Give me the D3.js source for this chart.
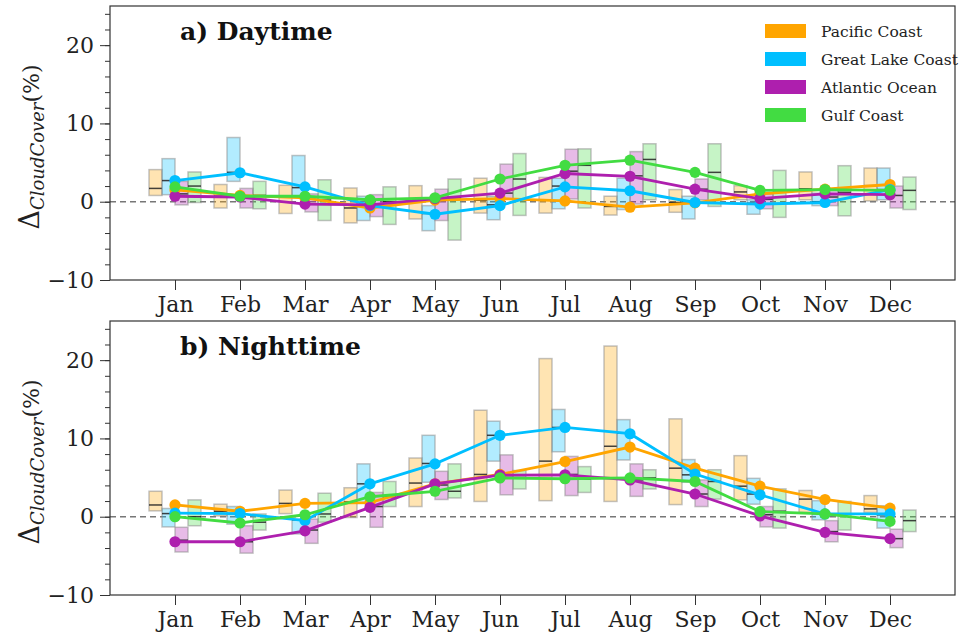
<!DOCTYPE html>
<html>
<head>
<meta charset="utf-8">
<script src="https://cdn.jsdelivr.net/npm/d3@7"></script>
<style>
  body { margin: 0; background: #fff; }
  svg { display: block; font-family: "DejaVu Serif", serif; }
</style>
</head>
<body>
<div id="chart"></div>
<script>
const months  = ["Jan","Feb","Mar","Apr","May","Jun","Jul","Aug","Sep","Oct","Nov","Dec"];
const regions = ["Pacific Coast","Great Lake Coast","Atlantic Ocean","Gulf Coast"];
const colors  = ["#FFA500","#00BFFF","#AE1FAE","#42DC42"];
const yTicks  = [-10, 0, 10, 20];

// daytime: one row per region (Pacific, Great Lake, Atlantic, Gulf)
const dayQ3 = [
  [4.1, 2.2, 2.1, 1.75, 2.05, 3.0, 3.1, 0.7, 1.55, 2.05, 3.8, 4.3],
  [5.5, 8.2, 5.9, 0.7, -0.5, 0.7, 3.0, 3.0, 0.7, 0.25, 1.1, 4.3],
  [2.6, 1.7, 1.0, 0.9, 1.6, 4.8, 6.7, 6.4, 2.9, 1.0, 1.55, 2.0],
  [3.8, 2.6, 2.8, 1.9, 2.9, 6.15, 6.75, 7.4, 7.4, 4.0, 4.6, 3.15]
];
const dayQ1 = [
  [0.8, -0.8, -1.5, -2.7, -2.2, -1.45, -1.45, -1.7, -1.35, 0.25, 0.25, 0.1],
  [0.9, 2.6, 0.7, -2.4, -3.7, -2.3, -0.9, -1.0, -2.2, -1.6, -0.5, 0.25],
  [-0.4, -0.8, -1.3, -1.9, -2.4, 0.35, 0.35, -0.3, 0.25, -0.9, -0.5, -0.8],
  [-0.1, -0.9, -2.4, -2.9, -4.9, -1.75, -0.8, 0.25, -0.6, -2.0, -1.8, -1.0]
];
const dayMedian = [
  [1.7, 0.7, 0.6, -0.8, 0.3, 0.2, 0.2, -0.6, -0.1, 1.25, 1.65, 2.05],
  [2.7, 3.75, 1.8, -0.6, -1.5, -0.4, 2.0, 1.45, 0.0, -0.2, 0.0, 1.55],
  [1.0, 0.5, -0.3, -0.5, 0.3, 1.1, 3.9, 3.3, 1.6, 0.3, 0.6, 0.8],
  [2.0, 0.8, 0.2, 0.0, 0.5, 2.9, 4.65, 5.4, 3.75, 1.2, 1.2, 1.45]
];
const dayMean = [
  [1.5, 0.8, 0.5, -0.8, 0.2, 0.4, 0.1, -0.7, -0.15, 1.0, 1.6, 2.2],
  [2.7, 3.7, 1.9, -0.5, -1.6, -0.5, 1.9, 1.4, -0.1, -0.3, -0.1, 1.55],
  [0.7, 0.6, -0.3, -0.4, 0.4, 1.1, 3.6, 3.25, 1.6, 0.4, 1.0, 0.9],
  [1.9, 0.7, 0.7, 0.25, 0.5, 2.9, 4.65, 5.3, 3.75, 1.45, 1.55, 1.45]
];

// nighttime
const nightQ3 = [
  [3.25, 1.6, 3.4, 3.7, 7.5, 13.6, 20.2, 21.8, 12.5, 7.8, 3.35, 2.7],
  [1.05, 1.3, -0.3, 6.75, 10.4, 12.2, 13.7, 12.4, 7.3, 4.9, 2.05, 1.4],
  [-1.35, -1.15, -0.3, 3.1, 5.8, 7.9, 7.7, 6.75, 4.7, 1.3, -0.5, -1.6],
  [2.15, 0.35, 3.0, 4.5, 6.75, 5.9, 6.4, 6.0, 6.0, 3.55, 1.95, 0.85]
];
const nightQ1 = [
  [0.75, 0.1, 0.4, -0.1, 1.3, 1.95, 2.05, 1.95, 1.55, 2.15, 0.55, 0.55],
  [-1.3, -0.95, -2.2, 1.7, 4.4, 7.1, 8.3, 7.25, 4.4, 1.6, -0.4, -1.45],
  [-4.5, -4.65, -3.4, -1.35, 2.2, 2.8, 2.7, 2.6, 1.3, -1.3, -3.2, -3.95],
  [-1.15, -1.7, -0.7, 1.3, 2.4, 3.55, 3.1, 3.55, 2.25, -1.45, -1.7, -1.9]
];
const nightMedian = [
  [1.5, 0.7, 1.7, 1.9, 4.3, 5.4, 7.1, 9.0, 6.2, 3.9, 2.25, 1.0],
  [0.4, 0.4, -0.4, 4.2, 6.8, 10.4, 11.4, 10.7, 5.35, 2.9, 0.4, 0.25],
  [-3.0, -3.2, -1.7, 1.3, 4.05, 5.25, 5.4, 4.7, 2.9, 0.25, -1.9, -2.8],
  [0.0, -0.7, 0.35, 2.55, 3.25, 5.0, 4.8, 4.95, 4.5, 0.7, 0.35, -0.5]
];
const nightMean = [
  [1.5, 0.7, 1.7, 1.8, 4.2, 5.4, 7.05, 8.9, 6.2, 3.9, 2.2, 1.1],
  [0.45, 0.4, -0.5, 4.2, 6.75, 10.4, 11.4, 10.6, 5.45, 2.8, 0.35, 0.35],
  [-3.2, -3.2, -1.8, 1.2, 4.2, 5.3, 5.35, 4.7, 2.9, 0.1, -2.0, -2.8],
  [0.0, -0.8, 0.25, 2.55, 3.25, 4.95, 4.85, 4.95, 4.5, 0.65, 0.35, -0.6]
];

const width = 963, height = 638;
const left = 110, right = 955;
const boxOffset = [-0.3, -0.1, 0.1, 0.3];
const boxW = 0.2;

const svg = d3.select("#chart").append("svg")
  .attr("width", width)
  .attr("height", height);

const xScale = d3.scaleLinear().domain([-1, 12]).range([left, right]);

const drawPanel = (top, bottom, title, q1, q3, med, mean, withLegend) => {
  const yScale = d3.scaleLinear().domain([-10, 25]).range([bottom, top]);
  const g = svg.append("g");

  // zero line
  g.append("line")
    .attr("x1", left).attr("x2", right)
    .attr("y1", yScale(0)).attr("y2", yScale(0))
    .attr("stroke", "#777").attr("stroke-width", 1.4)
    .attr("stroke-dasharray", "6,4");

  // boxes
  regions.forEach((r, i) => {
    const rows = months.map((m, j) => ({ j, lo: q1[i][j], hi: q3[i][j], md: med[i][j] }));
    g.selectAll(null).data(rows).join("rect")
      .attr("x", d => xScale(d.j + boxOffset[i] - boxW / 2))
      .attr("width", d => xScale(d.j + boxOffset[i] + boxW / 2) - xScale(d.j + boxOffset[i] - boxW / 2))
      .attr("y", d => yScale(d.hi))
      .attr("height", d => yScale(d.lo) - yScale(d.hi))
      .attr("fill", colors[i]).attr("fill-opacity", 0.3)
      .attr("stroke", "#888").attr("stroke-opacity", 0.5).attr("stroke-width", 1.5);
    g.selectAll(null).data(rows).join("line")
      .attr("x1", d => xScale(d.j + boxOffset[i] - boxW / 2))
      .attr("x2", d => xScale(d.j + boxOffset[i] + boxW / 2))
      .attr("y1", d => yScale(d.md)).attr("y2", d => yScale(d.md))
      .attr("stroke", "#222").attr("stroke-opacity", 0.85).attr("stroke-width", 1.5);
  });

  // mean lines with dots
  const line = d3.line().x((d, j) => xScale(j)).y(d => yScale(d));
  regions.forEach((r, i) => {
    g.append("path").datum(mean[i])
      .attr("d", line)
      .attr("fill", "none")
      .attr("stroke", colors[i]).attr("stroke-width", 2.8);
    g.selectAll(null).data(mean[i]).join("circle")
      .attr("cx", (d, j) => xScale(j))
      .attr("cy", d => yScale(d))
      .attr("r", 5.6)
      .attr("fill", colors[i]);
  });

  // axes
  const yAxis = d3.axisLeft(yScale).tickValues(yTicks).tickSize(10).tickPadding(6)
    .tickFormat(d => d < 0 ? "\u2212" + Math.abs(d) : d);
  const yMinor = d3.axisLeft(yScale).tickValues(d3.range(-10, 25, 2)).tickSize(5).tickFormat("");
  const xAxis = d3.axisBottom(xScale).tickValues(d3.range(12)).tickSize(10).tickPadding(6)
    .tickFormat(j => months[j]);

  const ya = g.append("g").attr("transform", `translate(${left},0)`).call(yAxis);
  g.append("g").attr("transform", `translate(${left},0)`).call(yMinor);
  const xa = g.append("g").attr("transform", `translate(0,${bottom})`).call(xAxis);
  [ya, xa].forEach(a => a.selectAll("text")
    .style("font-family", "'DejaVu Serif', serif")
    .style("font-size", "22px").attr("fill", "#222"));
  g.selectAll(".domain").remove();
  g.selectAll(".tick line").attr("stroke", "#333").attr("stroke-width", 1);

  // frame
  g.append("rect")
    .attr("x", left).attr("y", top)
    .attr("width", right - left).attr("height", bottom - top)
    .attr("fill", "none").attr("stroke", "#333").attr("stroke-width", 1.2);

  // title
  g.append("text")
    .attr("x", 180).attr("y", top + 34)
    .attr("font-size", 25).attr("font-weight", "bold").attr("fill", "#111")
    .text(title);

  // y label
  const lab = g.append("text")
    .attr("transform", `translate(39,${(top + bottom) / 2 + 4}) rotate(-90)`)
    .attr("text-anchor", "middle").attr("fill", "#222");
  lab.append("tspan").attr("font-size", 27).text("\u0394");
  lab.append("tspan").attr("font-size", 18).attr("font-style", "italic").attr("dy", 5).text("CloudCover");
  lab.append("tspan").attr("font-size", 22).attr("dy", -5).text("(%)");

  if (withLegend) {
    const lg = g.append("g");
    regions.forEach((r, i) => {
      lg.append("rect")
        .attr("x", 765).attr("y", top + 18 + i * 28)
        .attr("width", 41).attr("height", 14)
        .attr("fill", colors[i]);
      lg.append("text")
        .attr("x", 821).attr("y", top + 31 + i * 28)
        .attr("font-size", 15.5).attr("fill", "#222")
        .text(r);
    });
  }
};

drawPanel(6, 280, "a) Daytime", dayQ1, dayQ3, dayMedian, dayMean, true);
drawPanel(321, 595, "b) Nighttime", nightQ1, nightQ3, nightMedian, nightMean, false);
</script>
</body>
</html>
